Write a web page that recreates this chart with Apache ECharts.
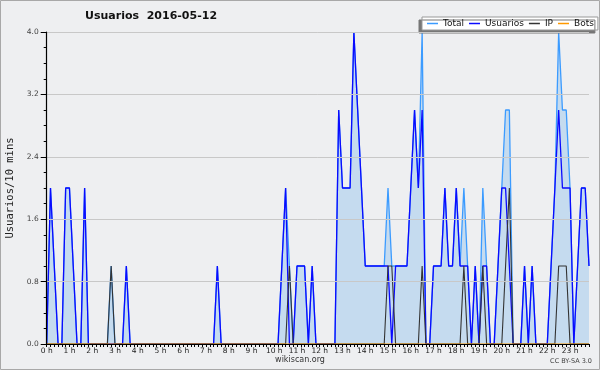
<!DOCTYPE html>
<html>
<head>
<meta charset="utf-8">
<script src="https://cdn.jsdelivr.net/npm/echarts@6/dist/echarts.min.js"></script>
<style>
html,body{margin:0;padding:0;background:#eeeff1;}
#chart{width:600px;height:370px;}
</style>
</head>
<body>
<div id="chart"></div>
<script>
// Tick labels
const hourLabels = ['0 h','1 h','2 h','3 h','4 h','5 h','6 h','7 h','8 h','9 h','10 h','11 h',
  '12 h','13 h','14 h','15 h','16 h','17 h','18 h','19 h','20 h','21 h','22 h','23 h'];
const minuteSlots = ['00','10','20','30','40','50'];
const yTickLabels = ['0.0','0.8','1.6','2.4','3.2','4.0'];

// Series values, one per 10-minute slot (144 slots)
const usuarios = [
  0,2,1,0,0,2, 2,1,0,0,2,0, 0,0,0,0,0,0, 0,0,0,1,0,0,   // 0h-3h
  0,0,0,0,0,0, 0,0,0,0,0,0, 0,0,0,0,0,0, 0,0,0,1,0,0,   // 4h-7h
  0,0,0,0,0,0, 0,0,0,0,0,0, 0,0,1,2,0,0, 1,1,1,0,1,0,   // 8h-11h
  0,0,0,0,0,3, 2,2,2,4,3,2, 1,1,1,1,1,1, 1,0,1,1,1,1,   // 12h-15h
  2,3,2,3,0,0, 1,1,1,2,1,1, 2,1,1,1,0,1, 0,1,1,0,0,1,   // 16h-19h
  2,2,1,0,0,0, 1,0,1,0,0,0, 0,1,2,3,2,2, 2,0,1,2,2,1    // 20h-23h
];
const ip = [
  0,0,0,0,0,0, 0,0,0,0,0,0, 0,0,0,0,0,1, 0,0,0,0,0,0,
  0,0,0,0,0,0, 0,0,0,0,0,0, 0,0,0,0,0,0, 0,0,0,0,0,0,
  0,0,0,0,0,0, 0,0,0,0,0,0, 0,0,0,0,1,0, 0,0,0,0,0,0,
  0,0,0,0,0,0, 0,0,0,0,0,0, 0,0,0,0,0,0, 1,1,0,0,0,0,
  0,0,0,1,0,0, 0,0,0,0,0,0, 0,0,1,0,0,0, 0,1,0,0,0,0,
  0,1,2,0,0,0, 0,0,0,0,0,0, 0,0,0,1,1,1, 0,0,0,0,0,0
];
const bots = [
  0,0,0,0,0,0, 0,0,0,0,0,0, 0,0,0,0,0,0, 0,0,0,0,0,0,
  0,0,0,0,0,0, 0,0,0,0,0,0, 0,0,0,0,0,0, 0,0,0,0,0,0,
  0,0,0,0,0,0, 0,0,0,0,0,0, 0,0,0,0,0,0, 0,0,0,0,0,0,
  0,0,0,0,0,0, 0,0,0,0,0,0, 0,0,0,0,0,0, 0,0,0,0,0,0,
  0,0,0,0,0,0, 0,0,0,0,0,0, 0,0,0,0,0,0, 0,0,0,0,0,0,
  0,0,0,0,0,0, 0,0,0,0,0,0, 0,0,0,0,0,0, 0,0,0,0,0,0
];
const total = [
  0,2,1,0,0,2, 2,1,0,0,2,0, 0,0,0,0,0,1, 0,0,0,1,0,0,
  0,0,0,0,0,0, 0,0,0,0,0,0, 0,0,0,0,0,0, 0,0,0,1,0,0,
  0,0,0,0,0,0, 0,0,0,0,0,0, 0,0,1,2,1,0, 1,1,1,0,1,0,
  0,0,0,0,0,3, 2,2,2,4,3,2, 1,1,1,1,1,1, 2,1,1,1,1,1,
  2,3,2,4,0,0, 1,1,1,2,1,1, 2,1,2,1,0,1, 0,2,1,0,0,1,
  2,3,3,0,0,0, 1,0,1,0,0,0, 0,1,2,4,3,3, 2,0,1,2,2,1
];

const categories = [];
hourLabels.forEach(function (h, i) {
  minuteSlots.forEach(function (m) { categories.push(m === '00' ? h : i + ':' + m); });
});

const chart = echarts.init(document.getElementById('chart'), null, {renderer: 'canvas'});
const baseFont = 'DejaVu Sans';
chart.setOption({
  animation: false,
  backgroundColor: '#eeeff1',
  title: {
    text: 'Usuarios  2016-05-12',
    left: 85, top: 11, padding: 0,
    textStyle: {fontFamily: baseFont, fontSize: 11, fontWeight: 'bold', color: '#111'}
  },
  legend: {
    left: 422, top: 17,
    padding: [2, 4, 2, 5],
    itemGap: 5,
    itemWidth: 11, itemHeight: 1.5,
    icon: 'rect',
    backgroundColor: '#ffffff',
    borderColor: '#999999', borderWidth: 1,
    shadowColor: '#777777', shadowBlur: 0, shadowOffsetX: -3, shadowOffsetY: 3,
    textStyle: {fontFamily: baseFont, fontSize: 9, color: '#111'},
    data: ['Total', 'Usuarios', 'IP', 'Bots']
  },
  grid: {left: 46.7, right: 11, top: 32, bottom: 26, containLabel: false, outerBoundsMode: 'none'},
  xAxis: {
    type: 'category',
    data: categories,
    boundaryGap: false,
    z: 10,
    axisLine: {lineStyle: {color: '#000', width: 1.2}},
    axisTick: {interval: 0, length: 3, lineStyle: {color: '#000'}},
    axisLabel: {interval: 5, fontFamily: baseFont, fontSize: 7.5, color: '#222', margin: 3},
    splitLine: {show: false}
  },
  yAxis: {
    type: 'value',
    min: 0, max: 4, interval: 0.8,
    z: 10,
    name: 'Usuarios/10 mins',
    nameLocation: 'middle',
    nameGap: 31,
    nameRotate: 90,
    nameTextStyle: {fontFamily: 'DejaVu Sans Mono', fontSize: 10.5, color: '#222'},
    axisLine: {show: true, lineStyle: {color: '#000', width: 1.2}},
    axisTick: {show: true, length: 6, lineStyle: {color: '#000'}},
    minorTick: {show: true, splitNumber: 4, length: 3, lineStyle: {color: '#000'}},
    axisLabel: {
      fontFamily: baseFont, fontSize: 7.5, color: '#444', margin: 8,
      formatter: function (v) { return yTickLabels[Math.round(v / 0.8)]; }
    },
    splitLine: {show: true, lineStyle: {color: '#c8c8c8', width: 1}}
  },
  series: [
    {
      name: 'Total', type: 'line', data: total, symbol: 'none',
      color: '#3b9bff',
      lineStyle: {width: 1.3, color: '#3b9bff'},
      areaStyle: {color: '#c5dbef', opacity: 1}
    },
    {
      name: 'Usuarios', type: 'line', data: usuarios, symbol: 'none',
      color: '#0a0aff',
      lineStyle: {width: 1.3, color: '#0a0aff'}
    },
    {
      name: 'IP', type: 'line', data: ip, symbol: 'none',
      color: '#333333',
      lineStyle: {width: 1.1, color: '#333333'}
    },
    {
      name: 'Bots', type: 'line', data: bots, symbol: 'none',
      color: '#ff9900',
      lineStyle: {width: 1.1, color: '#ff9900'}
    }
  ],
  graphic: [
    {type: 'rect', silent: true, z: 100,
     shape: {x: 0.5, y: 0.5, width: 599, height: 369},
     style: {fill: 'none', stroke: '#a8a8a8', lineWidth: 1}},
    {type: 'text', left: 'center', top: 356, silent: true,
     style: {text: 'wikiscan.org', font: '8px "DejaVu Sans"', fill: '#333'}},
    {type: 'text', right: 8, top: 358, silent: true,
     style: {text: 'CC BY-SA 3.0', font: '6.5px "DejaVu Sans"', fill: '#444'}}
  ]
});
</script>
</body>
</html>
